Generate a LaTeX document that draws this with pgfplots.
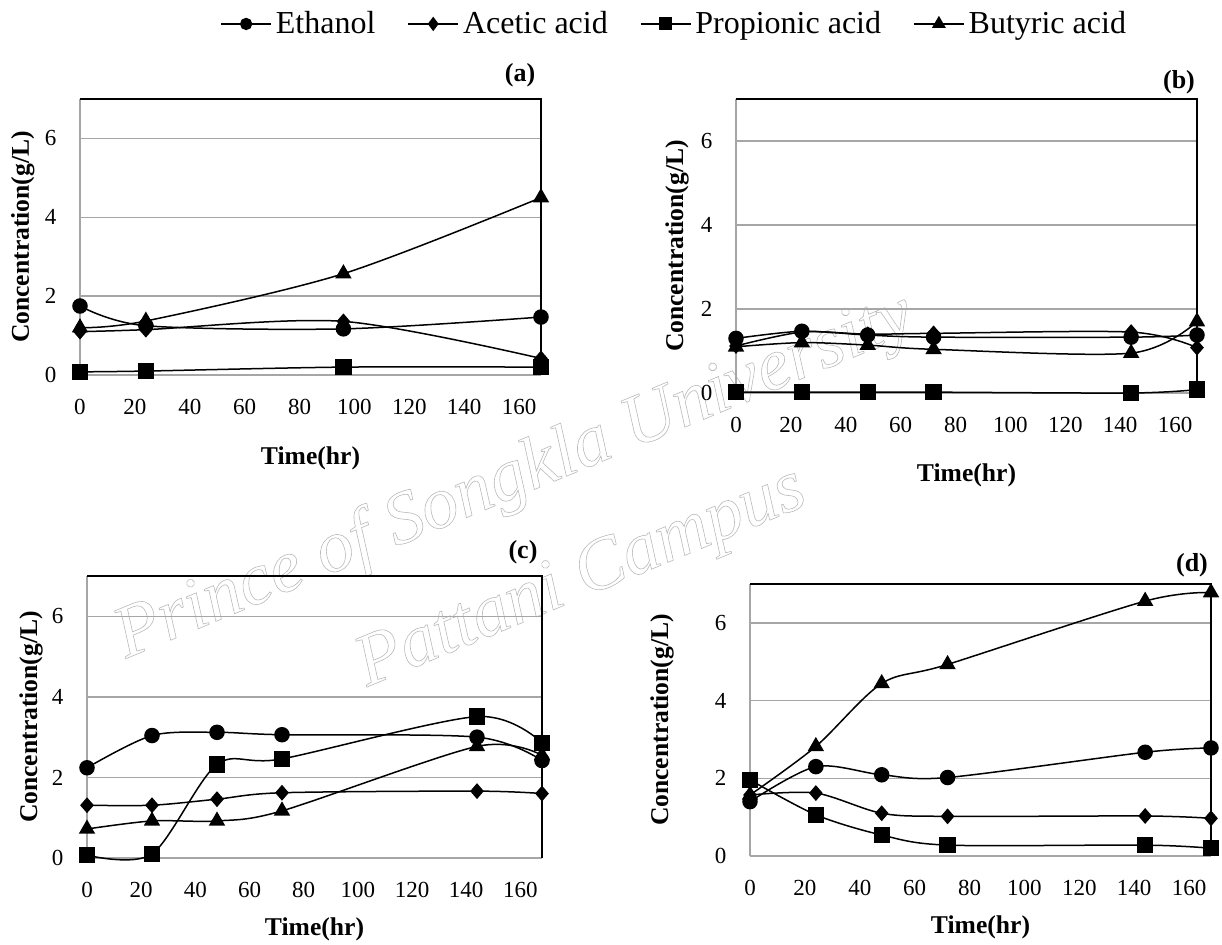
\documentclass[border=0pt]{standalone}
\usepackage{fontspec}
\setmainfont{Liberation Serif}
\usepackage{pgfplots}
\pgfplotsset{compat=1.18}

\pgfplotsset{
  panel/.style={
    scale only axis, clip=false,
    xmin=0, xmax=168, ymin=0, ymax=7,
    xtick={0,20,...,160}, ytick={0,2,4,6},
    major tick length=0pt,
    axis lines*=left,
    axis line style={gray!70, line width=0.9pt},
    ymajorgrids, grid style={gray!70, line width=0.7pt},
    /pgf/number format/assume math mode=true,
    tick label style={font=\fontsize{11.5}{13}\selectfont},
    yticklabel style={xshift=-8.3pt},
    xticklabel style={yshift=-8.8pt},
    xlabel={Time(hr)}, ylabel={Concentration(g/L)},
    every axis plot/.append style={black, line width=0.75pt, smooth, tension=0.5},
  },
  xl/.style={xlabel style={font=\bfseries\fontsize{12.8}{14}\selectfont, at={(axis description cs:0.5,0)}, anchor=center, yshift=#1}},
  yl/.style={ylabel style={font=\bfseries\fontsize{12.8}{14}\selectfont, at={(axis description cs:#1,0.5)}, anchor=center}},
  eth/.style={mark=*, mark size=3.5pt},
  ace/.style={mark=diamond*, mark size=3.4pt, mark options={solid, xscale=1.15}},
  pro/.style={mark=square*, mark size=3.7pt},
  but/.style={mark=triangle*, mark size=4pt},
}
\newcommand{\frameit}{\draw[black, line width=0.9pt] (rel axis cs:0,1) -- (rel axis cs:1,1) -- (rel axis cs:1,0);}
\newcommand{\plab}[3]{\node[font=\bfseries\fontsize{13}{15}\selectfont] at (rel axis cs:1,1) [xshift=#2, yshift=#3] {#1};}

\begin{document}
\begin{tikzpicture}
\path[use as bounding box] (0,0) rectangle (611pt,472pt);

% watermark (outlined)
\node[rotate=22.5, text=gray!55, font=\itshape\fontsize{37}{40}\selectfont] at (257.5pt,233pt)
  {\special{pdf:literal direct 1 Tr 0.3 w}Prince of Songkla University\special{pdf:literal direct 0 Tr}};
\node[rotate=22.5, text=gray!55, font=\itshape\fontsize{37}{40}\selectfont] at (291pt,182pt)
  {\special{pdf:literal direct 1 Tr 0.3 w}Pattani Campus\special{pdf:literal direct 0 Tr}};

% (a)
\begin{axis}[panel, at={(40pt,284.5pt)}, anchor=south west, width=230.5pt, height=138pt,
  xl=-41.5pt, yl=-0.124,
  legend style={at={(axis description cs:1.291,1.272)}, anchor=center, draw=none, fill=none,
    font=\fontsize{16}{18}\selectfont, legend columns=4,
    /tikz/every even column/.append style={column sep=14pt},
    /tikz/every odd column/.append style={column sep=0pt}},
  legend cell align=left,
  legend image code/.code={\draw[mark repeat=2,mark phase=2,#1] plot coordinates {(0cm,0cm) (0.44cm,0cm) (0.88cm,0cm)};}]
\addplot[eth, forget plot] coordinates {(0,1.75) (24,1.25) (96,1.17) (168,1.47)};
\addplot[ace, forget plot] coordinates {(0,1.10) (24,1.15) (96,1.36) (168,0.42)};
\addplot[pro, forget plot] coordinates {(0,0.08) (24,0.10) (96,0.20) (168,0.20)};
\addplot[but, forget plot] coordinates {(0,1.20) (24,1.37) (96,2.57) (168,4.50)};
\addlegendimage{black, line width=0.75pt, mark=*, mark size=2.7pt}
\addlegendentry{Ethanol}
\addlegendimage{black, line width=0.75pt, mark=diamond*, mark size=3pt}
\addlegendentry{Acetic acid}
\addlegendimage{black, line width=0.75pt, mark=square*, mark size=2.9pt}
\addlegendentry{Propionic acid}
\addlegendimage{black, line width=0.75pt, mark=triangle*, mark size=3.3pt}
\addlegendentry{Butyric acid}
\frameit
\plab{(a)}{-10.5pt}{12pt}
\end{axis}

% (b)
\begin{axis}[panel, at={(368pt,275.5pt)}, anchor=south west, width=230.5pt, height=147pt,
  xl=-41pt, yl=-0.128]
\addplot[eth] coordinates {(0,1.30) (24,1.47) (48,1.38) (72,1.33) (144,1.33) (168,1.38)};
\addplot[ace] coordinates {(0,1.12) (24,1.45) (48,1.40) (72,1.42) (144,1.45) (168,1.08)};
\addplot[pro] coordinates {(0,0.02) (24,0.02) (48,0.02) (72,0.02) (144,0.00) (168,0.08)};
\addplot[but] coordinates {(0,1.10) (24,1.20) (48,1.14) (72,1.04) (144,0.95) (168,1.70)};
\frameit
\plab{(b)}{-9pt}{8.5pt}
\end{axis}

% (c)
\begin{axis}[panel, at={(43.5pt,43pt)}, anchor=south west, width=227.5pt, height=141pt,
  xl=-35.5pt, yl=-0.123]
\addplot[eth] coordinates {(0,2.24) (24,3.04) (48,3.12) (72,3.06) (144,3.00) (168,2.42)};
\addplot[ace] coordinates {(0,1.31) (24,1.31) (48,1.46) (72,1.62) (144,1.66) (168,1.60)};
\addplot[pro] coordinates {(0,0.07) (24,0.10) (48,2.32) (72,2.46) (144,3.51) (168,2.86)};
\addplot[but] coordinates {(0,0.72) (24,0.92) (48,0.92) (72,1.17) (144,2.77) (168,2.55)};
\frameit
\plab{(c)}{-9.5pt}{12pt}
\end{axis}

% (d)
\begin{axis}[panel, at={(375pt,44pt)}, anchor=south west, width=230.5pt, height=136pt,
  xl=-35.5pt, yl=-0.191]
\addplot[eth] coordinates {(0,1.40) (24,2.30) (48,2.09) (72,2.02) (144,2.67) (168,2.78)};
\addplot[ace] coordinates {(0,1.57) (24,1.62) (48,1.10) (72,1.02) (144,1.03) (168,0.97)};
\addplot[pro] coordinates {(0,1.96) (24,1.06) (48,0.54) (72,0.28) (144,0.28) (168,0.20)};
\addplot[but] coordinates {(0,1.57) (24,2.82) (48,4.44) (72,4.93) (144,6.56) (168,6.78)};
\frameit
\plab{(d)}{-9.5pt}{9.5pt}
\end{axis}
\end{tikzpicture}
\end{document}
